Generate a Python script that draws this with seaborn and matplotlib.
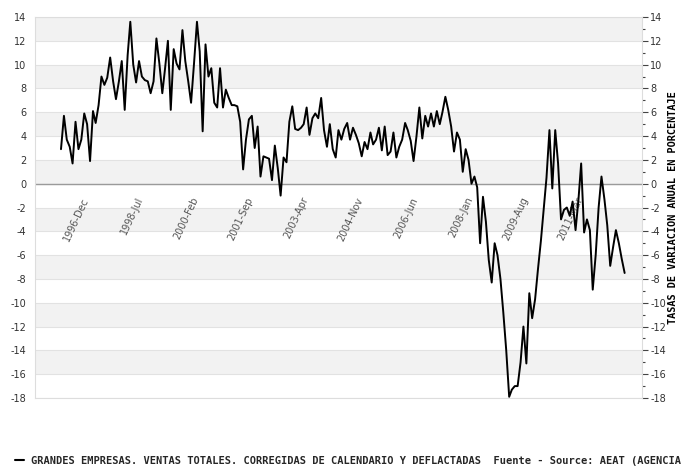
import pandas as pd
import matplotlib
matplotlib.use("Agg")
import matplotlib.pyplot as plt
import matplotlib.dates as mdates
from matplotlib.lines import Line2D
from matplotlib.ticker import MultipleLocator
import seaborn as sns

# Serie mensual (tasa de variacion anual, %), primer dato marzo 1996
start_month = "1996-03"
tasas = [
    2.9, 5.7, 3.7, 3.1, 1.7, 5.2, 2.9, 3.7, 5.9, 5.0,
    1.9, 6.1, 5.1, 6.6, 9.0, 8.3, 8.9, 10.6, 8.6, 7.1,
    8.6, 10.3, 6.2, 10.8, 13.6, 10.0, 8.5, 10.3, 9.0, 8.7,
    8.6, 7.6, 8.6, 12.2, 10.1, 7.6, 9.6, 12.0, 6.2, 11.3,
    10.1, 9.6, 12.9, 10.3, 8.6, 6.8, 10.1, 13.6, 11.1, 4.4,
    11.7, 9.0, 9.7, 6.8, 6.4, 9.7, 6.4, 7.9, 7.2, 6.6,
    6.6, 6.5, 5.2, 1.2, 3.7, 5.4, 5.7, 3.0, 4.8, 0.6,
    2.3, 2.2, 2.1, 0.3, 3.2, 1.3, -1.0, 2.2, 1.8, 5.2,
    6.5, 4.6, 4.5, 4.7, 5.0, 6.4, 4.1, 5.5, 5.9, 5.5,
    7.2, 4.5, 3.1, 5.0, 2.9, 2.2, 4.5, 3.7, 4.6, 5.1,
    3.7, 4.7, 4.1, 3.4, 2.3, 3.5, 2.9, 4.3, 3.3, 3.7,
    4.7, 2.8, 4.8, 2.4, 2.7, 4.3, 2.2, 3.1, 3.7, 5.1,
    4.5, 3.6, 1.9, 4.0, 6.4, 3.8, 5.7, 4.8, 5.9, 4.8,
    6.1, 5.0, 6.0, 7.3, 6.2, 4.8, 2.7, 4.3, 3.7, 1.0,
    2.9, 2.0, 0.0, 0.6, -0.3, -5.0, -1.1, -3.2, -6.4, -8.3,
    -5.0, -6.0, -8.0, -10.8, -14.0, -17.9, -17.3, -17.0, -17.0, -15.0,
    -12.0, -15.1, -9.2, -11.3, -9.7, -7.2, -4.8, -2.0, 0.5, 4.5,
    -0.4, 4.5, 1.7, -3.0, -2.2, -2.0, -2.7, -1.5, -3.9, -1.3,
    1.7, -4.1, -3.0, -3.9, -8.9, -6.0, -2.0, 0.6, -1.3, -3.5,
    -6.9, -5.3, -3.9, -5.0, -6.3, -7.5,
]
tick_labels = ["1996-Dec", "1998-Jul", "2000-Feb", "2001-Sep", "2003-Apr",
               "2004-Nov", "2006-Jun", "2008-Jan", "2009-Aug", "2011-Mar"]
y_ticks = list(range(-18, 15, 2))

serie = "GRANDES EMPRESAS. VENTAS TOTALES. CORREGIDAS DE CALENDARIO Y DEFLACTADAS  Fuente - Source: AEAT (AGENCIA"
eje_y = "TASAS DE VARIACION ANUAL EN PORCENTAJE"

fechas = pd.date_range(start_month, periods=len(tasas), freq="MS")
df = pd.DataFrame({"fecha": fechas, "tasa": tasas})

sns.set_style("white")
plt.rcParams["axes.unicode_minus"] = False

fig = plt.figure(figsize=(6.83, 4.70), dpi=100)
ax = fig.add_axes([0.0512, 0.1532, 0.8888, 0.8106])

# bandas grises alternas y rejilla
for lo in range(-16, 14, 4):
    ax.axhspan(lo, lo + 2, color="#f2f2f2", lw=0, zorder=0)
for y in y_ticks:
    ax.axhline(y, color="#e2e2e2", lw=0.8, zorder=0.5)
ax.axhline(0, color="#9a9a9a", lw=1.0, zorder=1)

sns.lineplot(data=df, x="fecha", y="tasa", color="black", lw=1.4,
             ax=ax, zorder=3, legend=False)

ax.set_xlim(pd.Timestamp("1995-06-01"), pd.Timestamp("2012-12-01"))
ax.set_ylim(-18, 14)
ax.set_xticks([])
ax.set_xlabel("")

# etiquetas de fecha dentro del grafico
for lab in tick_labels:
    d = pd.to_datetime(lab, format="%Y-%b")
    ax.text(mdates.date2num(d) + 35, -1.0, lab, rotation=65, ha="right", va="top",
            fontsize=7, color="#555555", zorder=2)

ax.set_yticks(y_ticks)
ax.yaxis.set_minor_locator(MultipleLocator(1))
ax.tick_params(axis="y", which="major", left=False, right=True, labelleft=True,
               labelright=True, length=4, width=0.8, color="#444444",
               labelsize=7, labelcolor="#333333", pad=2)
ax.tick_params(axis="y", which="minor", left=False, right=True, length=2,
               width=0.8, color="#444444")

ax.yaxis.set_label_position("right")
ax.set_ylabel(eje_y, fontfamily="DejaVu Sans Mono", fontweight="bold",
              fontsize=7.4, color="black", labelpad=1)

for side in ["left", "bottom", "right", "top"]:
    ax.spines[side].set_color("#dddddd")
    ax.spines[side].set_linewidth(0.8)

fig.legend(handles=[Line2D([0], [0], color="black", lw=1.5)], labels=[serie],
           loc="center left", bbox_to_anchor=(0.022, 0.019), frameon=False,
           handlelength=0.9, handletextpad=0.6, borderpad=0, borderaxespad=0,
           prop={"family": "DejaVu Sans Mono", "weight": "bold", "size": 7.45})

fig.savefig("out.png", dpi=100)
